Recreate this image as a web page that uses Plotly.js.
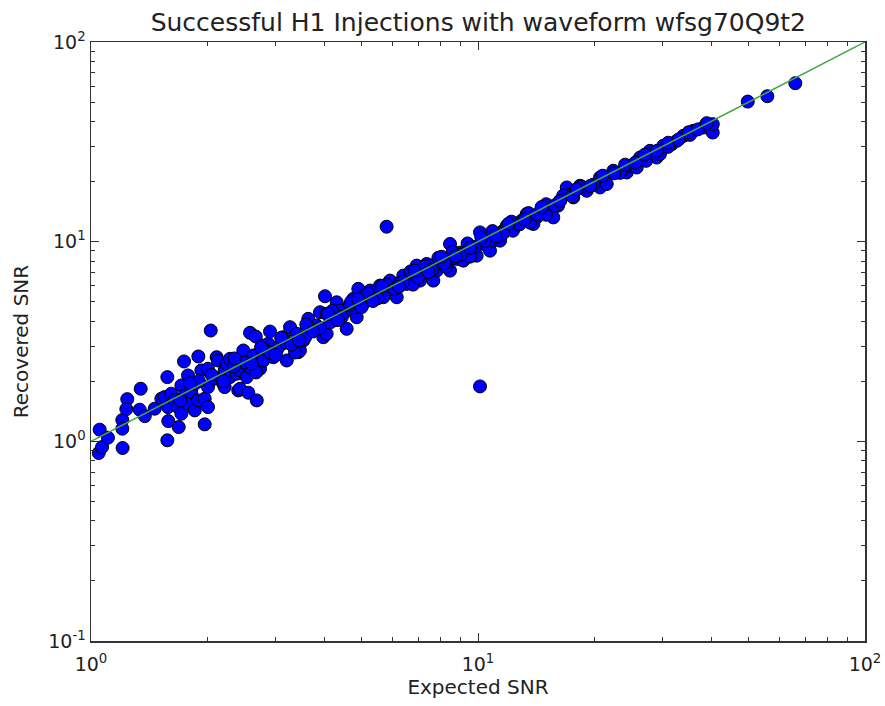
<!DOCTYPE html>
<html>
<head>
<meta charset="utf-8">
<script src="https://cdn.plot.ly/plotly-3.0.1.min.js"></script>
<style>html,body{margin:0;padding:0;background:#fff;}#chart{width:885px;height:706px;}</style>
</head>
<body>
<div id="chart"></div>
<script>
// Expected SNR (x) and Recovered SNR (y)
const expectedSNR = [
1.047,1.068,1.053,1.106,1.205,1.205,1.207,1.241,1.234,1.344,1.336,1.377,1.461,1.520,1.550,1.575,1.575,1.584,1.581,1.612,
1.645,1.685,1.678,1.712,1.712,1.739,1.746,1.781,1.781,1.816,1.854,1.854,1.890,1.894,1.928,1.967,1.967,2.006,2.006,2.006,
2.039,2.087,2.112,2.129,2.171,2.197,2.215,2.215,2.242,2.287,2.287,2.379,2.402,2.427,2.427,2.475,2.525,2.550,2.576,2.576,
2.627,2.665,2.681,2.734,2.788,2.788,2.872,2.901,2.959,3.019,3.140,3.205,3.268,3.333,3.401,3.434,3.467,3.537,3.643,3.830,
3.906,3.984,4.024,4.064,4.064,4.227,4.314,4.578,4.578,4.762,4.859,4.906,4.762,4.399,
5.053,5.260,5.365,5.581,5.692,5.806,5.926,6.166,6.412,6.543,6.944,7.082,7.369,7.665,7.822,8.134,8.466,8.466,8.810,9.162,
9.350,9.725,9.922,10.12,10.12,10.32,10.53,10.74,10.95,11.40,11.40,11.63,11.87,12.10,12.59,12.97,13.36,13.90,14.18,14.75,
15.35,15.65,16.29,16.96,17.63,18.35,19.10,20.27,20.67,20.67,21.51,22.37,24.23,24.71,25.71,26.22,27.82,28.96,29.53,30.11,
31.66,32.62,33.93,36.00,38.21,40.18,40.42,40.42,49.78,55.93,66.06,
5.105,5.451,6.033,6.286,6.674,6.792,7.210,7.516,7.978,8.268,8.985,9.535,11.20,12.31,13.63,14.99,16.10,17.29,19.83,23.28,
27.18,30.97,35.30,4.399,4.670,4.147,3.746,3.573,3.078,2.901,2.767,2.670,2.500,2.342,3.191,3.366,
3.30,3.60,3.90,4.20,4.45,4.70,5.00,5.20,5.50,5.80,6.10,6.40,6.70,7.00,7.30,7.60,7.90,8.20,8.60,9.00,
9.40,9.80,10.4,10.9,11.6,12.2,12.8,13.5,14.2,15.0,15.8,16.6,17.5,18.5,19.5,21.0,22.5,24.0,25.5,27.0,
29.0,31.0,33.0,35.0,37.0,39.0,2.20,2.35,2.60,2.75,3.00,3.10,1.90,1.70,1.80,2.05,
3.45,3.75,4.10,4.35,4.90,5.35,5.65,6.25,6.85,7.45,8.05,8.75,9.55,10.2,11.1,12.0,13.2,14.6,16.3,18.0
];
const recoveredSNR = [
0.874,0.936,1.144,1.043,1.278,1.157,0.926,1.627,1.450,1.834,1.440,1.338,1.457,1.635,1.665,2.097,1.012,1.263,1.484,1.732,
1.603,1.179,1.484,1.905,1.375,2.512,1.698,2.138,1.543,1.764,1.943,1.429,1.603,2.661,2.265,1.635,1.216,2.310,1.869,1.484,
3.589,2.059,2.639,2.541,2.097,1.943,2.265,1.869,2.446,2.591,2.097,2.181,1.799,2.265,1.834,2.851,2.097,1.752,3.496,2.353,
2.692,3.350,1.603,2.310,2.639,2.541,3.080,3.548,2.639,2.851,3.323,2.541,3.729,3.080,3.456,2.796,2.851,3.199,4.107,3.802,
4.431,3.323,5.328,4.350,3.456,4.027,4.972,4.519,3.661,5.171,4.183,5.802,4.694,4.519,
4.881,5.689,5.070,6.026,5.268,11.885,6.383,5.268,6.761,6.146,7.586,6.383,7.734,6.383,7.161,8.196,9.739,7.161,8.196,8.035,
9.016,9.366,8.511,11.13,1.884,9.739,10.51,9.016,10.12,10.93,10.12,11.35,12.02,11.79,12.26,12.74,13.76,12.26,13.23,14.57,
14.29,13.23,16.03,18.69,16.66,19.05,17.99,19.44,20.97,18.69,19.44,22.65,22.21,23.99,23.52,26.39,28.51,26.39,27.45,30.20,
30.80,31.99,33.88,35.89,37.28,38.02,35.20,38.78,50.29,53.51,62.15,
5.370,5.559,5.821,6.237,6.683,6.095,6.998,7.586,7.852,7.499,8.810,8.414,10.59,11.35,12.45,13.65,15.14,17.18,19.28,22.13,
25.41,29.85,34.28,4.121,4.842,3.936,3.589,3.311,3.020,2.786,3.020,2.213,2.483,2.371,3.126,2.786,
3.05,3.85,3.70,4.50,4.20,5.00,4.70,5.50,5.20,6.10,5.80,6.30,7.10,6.60,7.50,7.20,8.30,7.80,8.90,8.60,
9.80,9.40,10.1,11.3,11.0,12.6,12.2,13.9,13.7,15.4,15.2,17.0,16.9,18.9,19.0,21.4,22.0,24.3,24.9,27.3,
28.5,31.3,32.5,35.3,36.5,39.2,2.00,2.60,2.45,2.95,2.70,3.30,2.00,1.60,1.95,2.15,
3.20,3.55,4.35,4.05,5.15,5.05,6.00,5.95,7.15,7.05,8.40,8.45,9.30,10.5,10.7,12.3,12.9,14.9,16.0,18.3
];
// reference line y = x
const lineX = [1, 100];
const lineY = [1, 100];
// tick values and labels
const xTickVals = [1, 10, 100];
const xTickText = ['10<sup>0</sup>', '10<sup>1</sup>', '10<sup>2</sup>'];
const yTickVals = [0.1, 1, 10, 100];
const yTickText = ['10<sup>-1</sup>', '10<sup>0</sup>', '10<sup>1</sup>', '10<sup>2</sup>'];
const xMinorVals = [2,3,4,5,6,7,8,9,20,30,40,50,60,70,80,90];
const yMinorVals = [0.2,0.3,0.4,0.5,0.6,0.7,0.8,0.9,2,3,4,5,6,7,8,9,20,30,40,50,60,70,80,90];

const font = 'DejaVu Sans, sans-serif';
const traces = [
  {
    x: expectedSNR, y: recoveredSNR, type: 'scatter', mode: 'markers',
    marker: {size: 13, color: '#0000ff', line: {color: '#000000', width: 1}},
    hoverinfo: 'x+y'
  },
  {
    x: lineX, y: lineY, type: 'scatter', mode: 'lines',
    line: {color: '#3fa93f', width: 1.5}
  }
];
function axis(minorVals) {
  return {
    type: 'log', showgrid: false, zeroline: false,
    showline: true, linecolor: '#333', linewidth: 1.5, mirror: 'allticks',
    ticks: 'inside', ticklen: 8, tickcolor: '#333', tickwidth: 1,
    tickfont: {family: font, size: 19, color: '#222'},
    tickmode: 'array',
    minor: {tickmode: 'array', tickvals: minorVals, ticks: 'inside', ticklen: 4,
            tickcolor: '#333', tickwidth: 1, showgrid: false}
  };
}
const layout = {
  width: 885, height: 706,
  paper_bgcolor: '#fff', plot_bgcolor: '#fff',
  margin: {l: 91, r: 20, t: 42, b: 65},
  showlegend: false,
  title: {text: 'Successful H1 Injections with waveform wfsg70Q9t2',
          font: {family: font, size: 25, color: '#222'},
          x: 0.5405, xanchor: 'center', xref: 'container',
          y: 0.968, yanchor: 'middle', yref: 'container'},
  xaxis: Object.assign(axis(xMinorVals), {
    range: [0, 2], tickvals: xTickVals, ticktext: xTickText, ticklabelstandoff: 6,
    title: {text: 'Expected SNR', font: {family: font, size: 20, color: '#222'}, standoff: 4}
  }),
  yaxis: Object.assign(axis(yMinorVals), {
    range: [-1, 2], tickvals: yTickVals, ticktext: yTickText,
    title: {text: 'Recovered SNR', font: {family: font, size: 20, color: '#222'}, standoff: 14}
  })
};
Plotly.newPlot('chart', traces, layout, {displayModeBar: false, staticPlot: true});
</script>
</body>
</html>
